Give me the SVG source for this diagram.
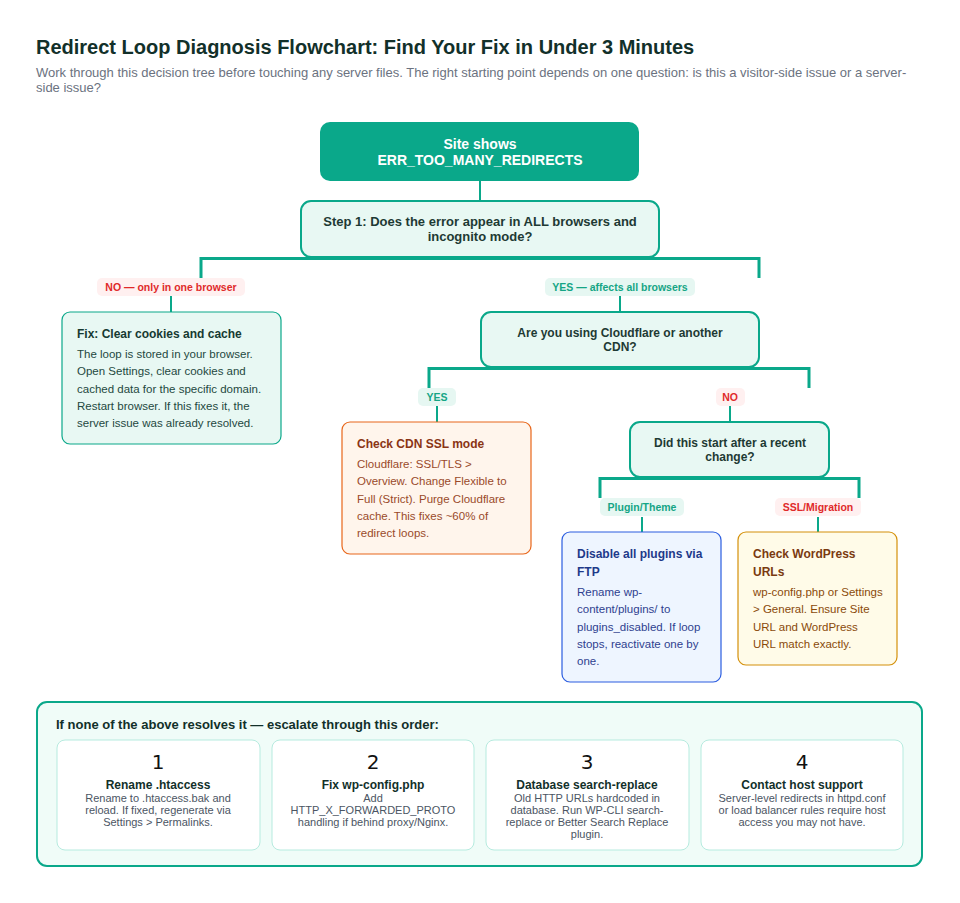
<svg xmlns="http://www.w3.org/2000/svg" width="960" height="903" viewBox="0 0 960 903">
<style>
text{font-family:"Liberation Sans",Arial,sans-serif}
.title{font-size:20px;font-weight:bold;fill:#12302a}
.sub{font-size:13px;fill:#6b7280}
.q{fill:#e8f8f3;stroke:#0aa88a;stroke-width:2}
.qt{font-size:13px;font-weight:bold;fill:#1e3a34;text-anchor:middle}
.qs{font-size:12px}
.fix{fill:#e8f8f3;stroke:#0aa88a;stroke-width:1.2}
.ht{font-size:12px;font-weight:bold}
.bt{font-size:11.5px}
.conn line,.conn path{stroke:#0aa88a;fill:none}
.pg{fill:#e6f7f2}
.pr{fill:#fff0f0}
.lg{font-size:10.5px;font-weight:bold;fill:#15a585;text-anchor:middle}
.lr{font-size:10.5px;font-weight:bold;fill:#e02a2a;text-anchor:middle}
.card{fill:#ffffff;stroke:#b6ebdf;stroke-width:1}
.num{font-family:"DejaVu Sans",sans-serif;font-size:20px;fill:#111;text-anchor:middle}
.ct{font-size:12px;font-weight:bold;fill:#12302a;text-anchor:middle}
.cb{font-size:11px;fill:#4b5563;text-anchor:middle}
</style>
<rect width="960" height="903" fill="#ffffff"/>
<text class="title" x="36" y="54">Redirect Loop Diagnosis Flowchart: Find Your Fix in Under 3 Minutes</text>
<text class="sub" x="36" y="77">Work through this decision tree before touching any server files. The right starting point depends on one question: is this a visitor-side issue or a server-</text>
<text class="sub" x="36" y="92">side issue?</text>

<g class="conn">
<line x1="480" y1="181" x2="480" y2="201" stroke-width="2"/>
<path d="M201,278 V258.5 H759 V278" stroke-width="3"/>
<line x1="171" y1="296" x2="171" y2="312" stroke-width="2"/>
<line x1="620" y1="296" x2="620" y2="312" stroke-width="2"/>
<path d="M429,388 V368.5 H809 V388" stroke-width="3"/>
<line x1="437" y1="406" x2="437" y2="422" stroke-width="2"/>
<line x1="730" y1="406" x2="730" y2="422" stroke-width="2"/>
<path d="M600,498 V478.5 H859 V498" stroke-width="3"/>
<line x1="642" y1="517" x2="642" y2="532" stroke-width="2"/>
<line x1="818" y1="517" x2="818" y2="532" stroke-width="2"/>
</g>

<g id="start">
<rect x="320" y="122" width="319" height="59" rx="10" fill="#0aa88a"/>
<text x="480" y="149" font-size="14" font-weight="bold" fill="#ffffff" text-anchor="middle">Site shows</text>
<text x="480" y="165" font-size="14" font-weight="bold" fill="#ffffff" text-anchor="middle">ERR_TOO_MANY_REDIRECTS</text>
</g>

<g id="step1">
<rect class="q" x="301" y="201" width="358" height="56" rx="10"/>
<text class="qt" x="480" y="226">Step 1: Does the error appear in ALL browsers and</text>
<text class="qt" x="480" y="241">incognito mode?</text>
</g>

<g id="label-no1">
<rect class="pr" x="97" y="278" width="148" height="18" rx="5"/>
<text class="lr" x="171" y="291">NO — only in one browser</text>
</g>
<g id="label-yes1">
<rect class="pg" x="545" y="278" width="150" height="18" rx="5"/>
<text class="lg" x="620" y="291">YES — affects all browsers</text>
</g>

<g id="fix-cookies">
<rect class="fix" x="62" y="312" width="219" height="132" rx="8"/>
<text class="ht" x="77" y="338" fill="#163a32">Fix: Clear cookies and cache</text>
<g class="bt" fill="#24483f">
<text x="77" y="358">The loop is stored in your browser.</text>
<text x="77" y="375">Open Settings, clear cookies and</text>
<text x="77" y="393">cached data for the specific domain.</text>
<text x="77" y="410">Restart browser. If this fixes it, the</text>
<text x="77" y="427">server issue was already resolved.</text>
</g>
</g>

<g id="cdn-q">
<rect class="q" x="481" y="312" width="278" height="55" rx="10"/>
<text class="qt qs" x="620" y="337">Are you using Cloudflare or another</text>
<text class="qt qs" x="620" y="351">CDN?</text>
</g>

<g id="label-yes2">
<rect class="pg" x="418" y="388" width="38" height="18" rx="5"/>
<text class="lg" x="437" y="401">YES</text>
</g>
<g id="label-no2">
<rect class="pr" x="716" y="388" width="29" height="18" rx="5"/>
<text class="lr" x="730" y="401">NO</text>
</g>

<g id="cdn-ssl">
<rect x="342" y="422" width="189" height="132" rx="8" fill="#fff5ec" stroke="#e8661a" stroke-width="1.2"/>
<text class="ht" x="357" y="448" fill="#8a3414">Check CDN SSL mode</text>
<g class="bt" fill="#9a4a2a">
<text x="357" y="468">Cloudflare: SSL/TLS &gt;</text>
<text x="357" y="485">Overview. Change Flexible to</text>
<text x="357" y="503">Full (Strict). Purge Cloudflare</text>
<text x="357" y="520">cache. This fixes ~60% of</text>
<text x="357" y="537">redirect loops.</text>
</g>
</g>

<g id="recent-q">
<rect class="q" x="630" y="422" width="199" height="55" rx="10"/>
<text class="qt qs" x="730" y="447">Did this start after a recent</text>
<text class="qt qs" x="730" y="461">change?</text>
</g>

<g id="label-plugin">
<rect class="pg" x="600" y="498" width="84" height="18" rx="5"/>
<text class="lg" x="642" y="511">Plugin/Theme</text>
</g>
<g id="label-ssl">
<rect class="pr" x="775" y="498" width="86" height="18" rx="5"/>
<text class="lr" x="818" y="511">SSL/Migration</text>
</g>

<g id="plugins">
<rect x="562" y="532" width="159" height="150" rx="8" fill="#eef5ff" stroke="#2b5de0" stroke-width="1.2"/>
<text class="ht" x="577" y="558" fill="#1e3a8a">Disable all plugins via</text>
<text class="ht" x="577" y="576" fill="#1e3a8a">FTP</text>
<g class="bt" fill="#2f3f8f">
<text x="577" y="596">Rename wp-</text>
<text x="577" y="613">content/plugins/ to</text>
<text x="577" y="631">plugins_disabled. If loop</text>
<text x="577" y="648">stops, reactivate one by</text>
<text x="577" y="665">one.</text>
</g>
</g>

<g id="wp-urls">
<rect x="738" y="532" width="159" height="133" rx="8" fill="#fffbe8" stroke="#d4900a" stroke-width="1.2"/>
<text class="ht" x="753" y="558" fill="#7a3a10">Check WordPress</text>
<text class="ht" x="753" y="576" fill="#7a3a10">URLs</text>
<g class="bt" fill="#8a4a0a">
<text x="753" y="596">wp-config.php or Settings</text>
<text x="753" y="613">&gt; General. Ensure Site</text>
<text x="753" y="631">URL and WordPress</text>
<text x="753" y="648">URL match exactly.</text>
</g>
</g>

<g id="escalate">
<rect x="37" y="702" width="885" height="164" rx="10" fill="#f0fcf8" stroke="#0aa88a" stroke-width="2"/>
<text x="56" y="729" font-size="13" font-weight="bold" fill="#12302a">If none of the above resolves it — escalate through this order:</text>
</g>

<g id="step-1">
<rect class="card" x="57" y="740" width="203" height="110" rx="8"/>
<text class="num" x="158" y="769">1</text>
<text class="ct" x="158" y="789">Rename .htaccess</text>
<text class="cb" x="158" y="802">Rename to .htaccess.bak and</text>
<text class="cb" x="158" y="814">reload. If fixed, regenerate via</text>
<text class="cb" x="158" y="826">Settings &gt; Permalinks.</text>
</g>
<g id="step-2">
<rect class="card" x="272" y="740" width="202" height="110" rx="8"/>
<text class="num" x="373" y="769">2</text>
<text class="ct" x="373" y="789">Fix wp-config.php</text>
<text class="cb" x="373" y="802">Add</text>
<text class="cb" x="373" y="814">HTTP_X_FORWARDED_PROTO</text>
<text class="cb" x="373" y="826">handling if behind proxy/Nginx.</text>
</g>
<g id="step-3">
<rect class="card" x="486" y="740" width="203" height="110" rx="8"/>
<text class="num" x="587" y="769">3</text>
<text class="ct" x="587" y="789">Database search-replace</text>
<text class="cb" x="587" y="802">Old HTTP URLs hardcoded in</text>
<text class="cb" x="587" y="814">database. Run WP-CLI search-</text>
<text class="cb" x="587" y="826">replace or Better Search Replace</text>
<text class="cb" x="587" y="838">plugin.</text>
</g>
<g id="step-4">
<rect class="card" x="701" y="740" width="202" height="110" rx="8"/>
<text class="num" x="802" y="769">4</text>
<text class="ct" x="802" y="789">Contact host support</text>
<text class="cb" x="802" y="802">Server-level redirects in httpd.conf</text>
<text class="cb" x="802" y="814">or load balancer rules require host</text>
<text class="cb" x="802" y="826">access you may not have.</text>
</g>
</svg>
